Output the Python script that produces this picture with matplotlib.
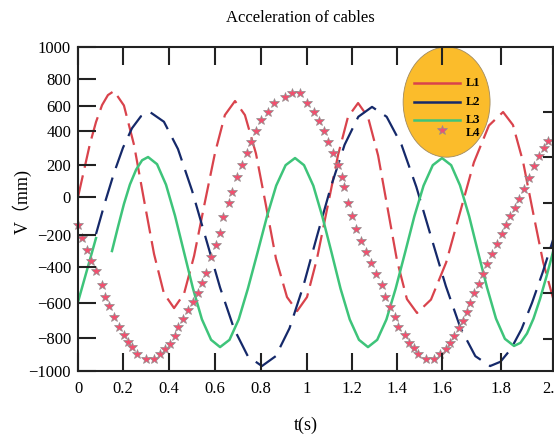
import numpy as np
import matplotlib
matplotlib.use('Agg')
import matplotlib.pyplot as plt
from matplotlib.patches import Ellipse

plt.rcParams['font.family'] = ['Liberation Serif', 'Noto Sans CJK SC']

# L1 (red dashed)
t1 = [0, .027, .053, .080, .107, .133, .160, .204, .248, .291, .335, .378, .422,
      .465, .509, .554, .600, .643, .687, .730, .778, .822, .865, .913, .957,
      1.000, 1.044, 1.091, 1.138, 1.182, 1.227, 1.271, 1.316, 1.358, 1.400, 1.444,
      1.489, 1.551, 1.614, 1.661, 1.708, 1.759, 1.808, 1.846, 1.885, 1.923, 1.962, 2.000]
v1 = [0, 169, 324, 472, 607, 681, 711, 604, 318, -13, -319, -547, -629,
      -550, -331, -39, 271, 528, 637, 528, 268, -47, -347, -567, -646,
      -567, -350, -53, 259, 512, 622, 512, 256, -58, -359, -578,
      -657, -581, -372, -82, 215, 444, 552, 448, 218, -79, -369, -572]

# L2 (navy dashed)
t2 = [0.080, 0.120, 0.160, 0.200, 0.239, 0.278, 0.317, 0.378, 0.439, 0.500, 0.561,
      0.622, 0.683, 0.743, 0.804, 0.864, 0.924, 0.984, 1.044, 1.106, 1.167, 1.228,
      1.289, 1.354, 1.420, 1.486, 1.551, 1.613, 1.663, 1.713, 1.763, 1.798, 1.838,
      1.879, 1.919, 1.960, 2.000]
v2 = [-195, -28, 150, 302, 422, 518, 552, 474, 294, 41, -225,
      -514, -748, -911, -970, -910, -744, -506, -209, 63, 319, 514,
      593, 514, 319, 63, -209, -506, -744, -910, -970, -944, -867,
      -749, -600, -431, -231]

# L3 (green solid), short piece at the start then the main curve
t3 = [0, 0.080, np.nan, 0.151, 0.178, 0.204, 0.230, 0.257, 0.283, 0.309, 0.348, 0.387,
      0.426, 0.465, 0.504, 0.543, 0.583, 0.622, 0.663, 0.703, 0.743, 0.785, 0.826,
      0.866, 0.907, 0.948, 0.987, 1.028, 1.068, 1.109, 1.149, 1.190, 1.231, 1.271,
      1.312, 1.353, 1.394, 1.436, 1.477, 1.518, 1.559, 1.600, 1.631, 1.661, 1.692,
      1.722, 1.753, 1.783, 1.815, 1.850, 1.875, 1.900, 1.925, 1.950, 1.975, 2.000]
v3 = [-594, -219, np.nan, -300, -156, -37, 78, 171, 228, 247, 205, 77,
      -98, -306, -518, -693, -811, -855, -811, -694, -520, -309, -102,
      71, 199, 241, 199, 71, -102, -309, -520, -694, -811, -855,
      -811, -694, -520, -309, -102, 71, 199, 241, 199, 73, -101,
      -306, -516, -689, -805, -848, -829, -774, -689, -578, -452, -306]

# L4 (star markers)
t4 = [0, .018, .040, .058, .080, .107, .120, .138, .160, .182, .204, .222, .239, .261,
      .300, .335, .361, .383, .404, .426, .439, .461, .483, .504, .526, .543, .561,
      .583, .604, .622, .635, .661, .674, .696, .717, .739, .757, .778, .800, .830,
      .857, .904, .935, .970, 1.000, 1.031, 1.053, 1.076, 1.093, 1.116, 1.138, 1.156,
      1.164, 1.182, 1.200, 1.218, 1.240, 1.262, 1.284, 1.307, 1.333, 1.347, 1.369,
      1.391, 1.404, 1.436, 1.453, 1.476, 1.493, 1.529, 1.564, 1.591, 1.614, 1.627,
      1.641, 1.658, 1.671, 1.685, 1.695, 1.708, 1.725, 1.739, 1.753, 1.769, 1.786,
      1.804, 1.819, 1.835, 1.854, 1.869, 1.888, 1.908, 1.927, 1.946, 1.965, 1.981]
v4 = [-147, -219, -294, -362, -422, -500, -567, -617, -680, -737, -783, -824, -855, -897,
      -927, -927, -897, -867, -836, -789, -737, -691, -640, -594, -544, -489, -433,
      -337, -263, -189, -105, -32, 31, 125, 200, 271, 335, 400, 488, 552,
      622, 667, 696, 696, 622, 552, 480, 400, 335, 271, 200, 125,
      63, -32, -100, -168, -238, -306, -375, -439, -500, -567, -623,
      -680, -737, -783, -830, -861, -897, -927, -927, -897, -867, -830,
      -789, -743, -703, -651, -600, -544, -494, -439, -381, -319, -256,
      -195, -147, -100, -58, -11, 50, 119, 194, 253, 300, 341]

xticks = [0, 0.2, 0.4, 0.6, 0.8, 1.0, 1.2, 1.4, 1.6, 1.8, 2.0]
xlabels = ['0', '0.2', '0.4', '0.6', '0.8', '1', '1.2', '1.4', '1.6', '1.8', '2.0']
yticks = [-1000, -800, -600, -400, -200, 0, 200, 400, 600, 800, 1000]

# the original axes are not evenly spaced: where each tick sits along its axis
x_tick_pos = [0, 45, 91, 137, 183, 229, 274, 319, 364, 423, 475]
y_tick_pos = [0, 33, 68, 104, 136, 174, 206, 240, 265, 292, 324]


def x_fwd(v):
    return np.interp(v, xticks, x_tick_pos)


def x_inv(p):
    return np.interp(p, x_tick_pos, xticks)


def y_fwd(v):
    return np.interp(v, yticks, y_tick_pos)


def y_inv(p):
    return np.interp(p, y_tick_pos, yticks)


red = '#d9434c'
navy = '#15296a'
green = '#3ec47a'
pink = '#f2506f'

fig = plt.figure(figsize=(5.54, 4.37), dpi=100)
ax = fig.add_axes([0.1408, 0.151, 0.8574, 0.7414])
ax.set_xscale('function', functions=(x_fwd, x_inv))
ax.set_yscale('function', functions=(y_fwd, y_inv))
ax.set_axisbelow(False)

ax.plot(t1, v1, color=red, lw=1.6, ls=(0, (10, 3.5)), zorder=2)
ax.plot(t2, v2, color=navy, lw=1.6, ls=(0, (11, 4.5)), zorder=2)
ax.plot(t3, v3, color=green, lw=1.8, zorder=2)
ax.plot(t4, v4, ls='none', marker='*', ms=7.5, mfc=pink, mec='#909090', mew=0.5,
        zorder=2, clip_on=False)

ax.set_xlim(0, 2)
ax.set_ylim(-1000, 1000)
ax.set_xticks(xticks, xlabels)
ax.set_yticks(yticks)
ax.minorticks_off()
ax.tick_params(direction='in', length=13, width=1.5, top=True, right=False,
               labelsize=12, colors='#222222', labelcolor='black')
ax.tick_params(axis='x', pad=7)
ax.tick_params(axis='y', pad=5)
for s in ax.spines.values():
    s.set_linewidth(1.5)
    s.set_color('#222222')

# short inward ticks on the right frame, no labels
ax2 = ax.twinx()
ax2.set_ylim(-1000, 1000)
ax2.set_yticks(np.linspace(-800, 600, 6))
ax2.tick_params(direction='in', length=7, width=1.5, labelright=False, colors='#222222')
for s in ax2.spines.values():
    s.set_visible(False)

# oval legend
ax.add_patch(Ellipse((0.776, 0.830), 0.183, 0.340, transform=ax.transAxes,
                     fc='#fbbc2b', ec='#a08a60', lw=0.6, zorder=2.2))
legend_items = [('L1', red, 0.889), ('L2', navy, 0.830), ('L3', green, 0.775)]
for name, col, yy in legend_items:
    ax.plot([0.707, 0.804], [yy, yy], transform=ax.transAxes, color=col, lw=1.8,
            zorder=3)
    ax.text(0.817, yy, name, transform=ax.transAxes, fontsize=9, fontweight='bold',
            va='center', ha='left', zorder=3)
ax.plot([0.766], [0.744], transform=ax.transAxes, ls='none', marker='*', ms=7.5,
        mfc=pink, mec='#909090', mew=0.5, zorder=3)
ax.text(0.817, 0.735, 'L4', transform=ax.transAxes, fontsize=9, fontweight='bold',
        va='center', ha='left', zorder=3)

fig.text(0.5415, 0.959, 'Acceleration of cables', ha='center', va='center', fontsize=12)
fig.text(0.552, 0.027, 't(s)', ha='center', va='center', fontsize=13)
fig.text(0.040, 0.54, 'V（mm)', rotation=90, ha='center', va='center', fontsize=13)

fig.savefig('out.png', dpi=100)
